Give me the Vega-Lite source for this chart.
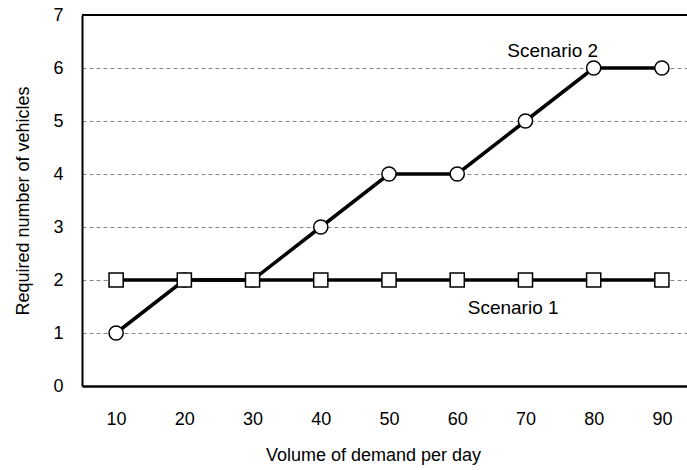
{
  "$schema": "https://vega.github.io/schema/vega-lite/v6.json",
  "width": 605,
  "height": 371,
  "autosize": "none",
  "padding": {"left": 82, "top": 15, "right": 0, "bottom": 84},
  "background": "white",
  "config": {
    "view": {"stroke": null},
    "font": "Liberation Sans",
    "axis": {"labelFont": "Liberation Sans", "titleFont": "Liberation Sans", "labelColor": "black", "titleColor": "black", "labelFontSize": 18, "titleFontSize": 18, "titleFontWeight": "normal", "ticks": false, "domainColor": "black"}
  },
  "datasets": {
    "series": [
      {"demand": 10, "vehicles": 2, "scenario": "Scenario 1"},
      {"demand": 20, "vehicles": 2, "scenario": "Scenario 1"},
      {"demand": 30, "vehicles": 2, "scenario": "Scenario 1"},
      {"demand": 40, "vehicles": 2, "scenario": "Scenario 1"},
      {"demand": 50, "vehicles": 2, "scenario": "Scenario 1"},
      {"demand": 60, "vehicles": 2, "scenario": "Scenario 1"},
      {"demand": 70, "vehicles": 2, "scenario": "Scenario 1"},
      {"demand": 80, "vehicles": 2, "scenario": "Scenario 1"},
      {"demand": 90, "vehicles": 2, "scenario": "Scenario 1"},
      {"demand": 10, "vehicles": 1, "scenario": "Scenario 2"},
      {"demand": 20, "vehicles": 2, "scenario": "Scenario 2"},
      {"demand": 30, "vehicles": 2, "scenario": "Scenario 2"},
      {"demand": 40, "vehicles": 3, "scenario": "Scenario 2"},
      {"demand": 50, "vehicles": 4, "scenario": "Scenario 2"},
      {"demand": 60, "vehicles": 4, "scenario": "Scenario 2"},
      {"demand": 70, "vehicles": 5, "scenario": "Scenario 2"},
      {"demand": 80, "vehicles": 6, "scenario": "Scenario 2"},
      {"demand": 90, "vehicles": 6, "scenario": "Scenario 2"}
    ],
    "labels": [
      {"demand": 74.0, "vehicles": 6.32, "text": "Scenario 2"},
      {"demand": 68.2, "vehicles": 1.47, "text": "Scenario 1"}
    ],
    "top": [{"vehicles": 7}]
  },
  "layer": [
    {
      "data": {"name": "series"},
      "mark": {"type": "line", "color": "black", "strokeWidth": 3.5},
      "encoding": {
        "x": {"field": "demand", "type": "quantitative", "scale": {"domain": [5, 93.68], "nice": false, "zero": false},
          "axis": {"values": [10, 20, 30, 40, 50, 60, 70, 80, 90], "format": "d", "title": "Volume of demand per day", "grid": false, "domainWidth": 2.5, "labelPadding": 24, "titlePadding": 18, "titleX": 291}},
        "y": {"field": "vehicles", "type": "quantitative", "scale": {"domain": [0, 7], "nice": false},
          "axis": {"values": [0, 1, 2, 3, 4, 5, 6, 7], "format": "d", "title": "Required number of vehicles", "grid": true, "gridColor": "#888888", "gridDash": [4, 3], "gridWidth": 1, "domainWidth": 2, "labelPadding": 19, "titleX": -54, "titleBaseline": "alphabetic"}},
        "detail": {"field": "scenario"}
      }
    },
    {
      "data": {"name": "top"},
      "mark": {"type": "rule", "color": "black", "strokeWidth": 2},
      "encoding": {"y": {"field": "vehicles", "type": "quantitative"}}
    },
    {
      "data": {"name": "series"},
      "transform": [{"filter": "datum.scenario === 'Scenario 2'"}],
      "mark": {"type": "point", "shape": "circle", "filled": true, "fill": "white", "stroke": "black", "strokeWidth": 1.5, "size": 200, "opacity": 1},
      "encoding": {
        "x": {"field": "demand", "type": "quantitative"},
        "y": {"field": "vehicles", "type": "quantitative"}
      }
    },
    {
      "data": {"name": "series"},
      "transform": [{"filter": "datum.scenario === 'Scenario 1'"}],
      "mark": {"type": "point", "shape": "square", "filled": true, "fill": "white", "stroke": "black", "strokeWidth": 1.5, "size": 200, "opacity": 1},
      "encoding": {
        "x": {"field": "demand", "type": "quantitative"},
        "y": {"field": "vehicles", "type": "quantitative"}
      }
    },
    {
      "data": {"name": "labels"},
      "mark": {"type": "text", "font": "Liberation Sans", "fontSize": 19, "color": "black", "align": "center", "baseline": "middle"},
      "encoding": {
        "x": {"field": "demand", "type": "quantitative"},
        "y": {"field": "vehicles", "type": "quantitative"},
        "text": {"field": "text"}
      }
    }
  ]
}
